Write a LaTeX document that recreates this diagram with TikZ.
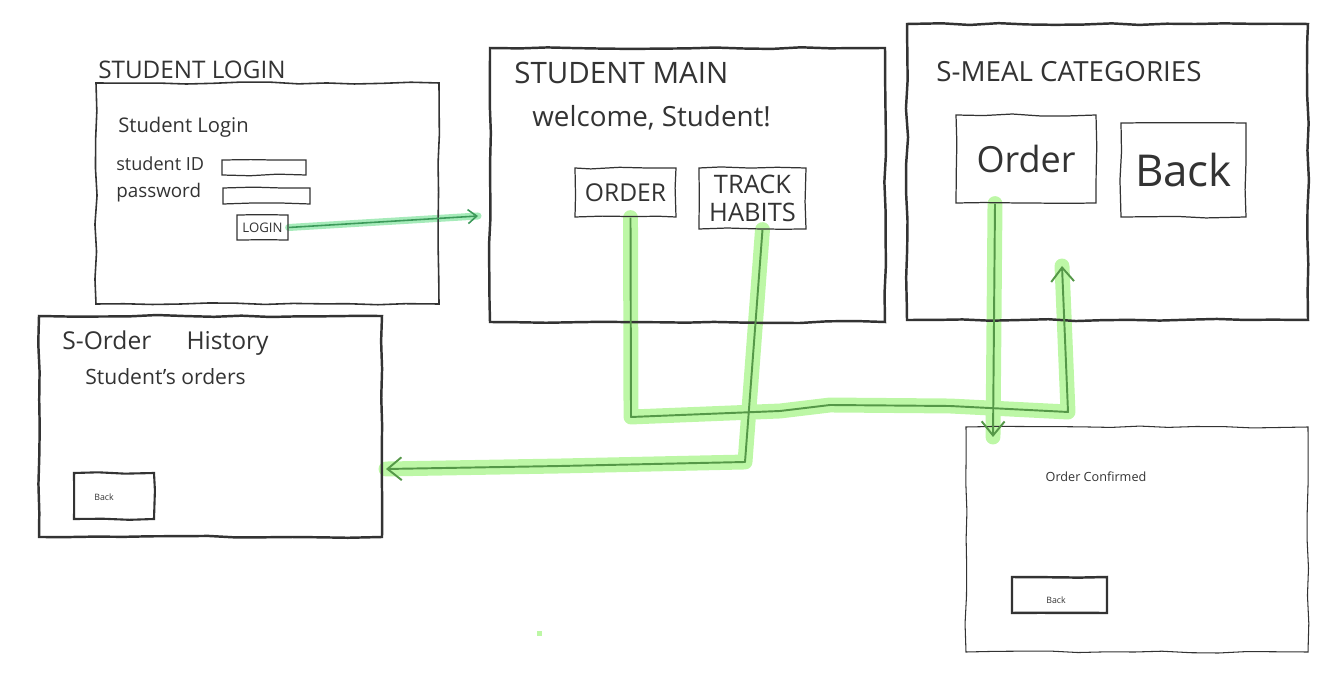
\documentclass[tikz,border=0pt]{standalone}
\usepackage{fontspec}
\setmainfont{Open Sans}
\usetikzlibrary{arrows.meta,fit,calc,backgrounds,decorations.pathmorphing}
\definecolor{ink}{HTML}{333333}
\definecolor{hlg}{HTML}{BDF7A6}
\definecolor{wireg}{HTML}{559848}
\definecolor{hlt}{HTML}{A6EBBA}
\definecolor{wiret}{HTML}{3C9A5A}
\newcommand{\fsz}[1]{\fontsize{#1}{#1}\selectfont}
\pgfmathsetseed{7}
\begin{document}
\begin{tikzpicture}[x=0.02cm,y=-0.02cm,
  rough/.style={decorate,decoration={random steps,segment length=16pt,amplitude=0.6pt}},
  screen/.style={draw=ink,line width=1.4pt,rough,inner sep=0pt},
  btn/.style={draw=ink,line width=0.7pt,rough,inner sep=0pt,text=ink},
  txt/.style={inner sep=0pt,text=ink},
  hl/.style={draw=hlg,line width=8.5pt,line cap=round,line join=round},
  hlb/.style={draw=hlt,line width=4pt,line cap=round,line join=round},
  wire/.style={draw=wireg,line width=1.1pt,line join=round,-{Straight Barb[length=8pt,width=13pt]}},
  wireb/.style={draw=wiret,line width=0.9pt,-{Straight Barb[length=5pt,width=8pt]}}]
\useasboundingbox (0,0) rectangle (1342,685);

% Student login screen
\node[screen,line width=0.9pt,fit={(96,83)(439,304)}] (login) {};
\node[txt,anchor=base west,font=\fsz{13.8}] (logintitle) at (98,79) {STUDENT LOGIN};
\node[txt,anchor=west,font=\fsz{11.5}] (loginhead) at (118,127) {Student Login};
\node[txt,anchor=west,font=\fsz{10.3}] (idlbl) at (116,164) {student ID};
\node[txt,anchor=west,font=\fsz{10.7}] (pwlbl) at (116,193) {password};
\node[btn,fit={(222,160)(306,175)}] (idfield) {};
\node[btn,fit={(223,188)(310,204)}] (pwfield) {};
\node[btn,fit={(237,215)(288,240)},label={[txt,font=\fsz{7.5}]center:LOGIN}] (loginbtn) {};

% Student main screen
\node[screen,fit={(490,48)(885,322)}] (main) {};
\node[txt,anchor=west,font=\fsz{16.8}] (maintitle) at (514,73) {STUDENT MAIN};
\node[txt,anchor=west,font=\fsz{15.8}] (welcome) at (532,118) {welcome, Student!};
\node[btn,fit={(575,168)(676,217)},label={[txt,font=\fsz{14}]center:ORDER}] (orderbtn) {};
\node[btn,fit={(699,168)(806,229)},label={[txt,font=\fsz{14.5},align=center]center:TRACK\\[1pt]HABITS}] (trackbtn) {};

% Meal categories screen
\node[screen,fit={(907,24)(1308,320)}] (meal) {};
\node[txt,anchor=west,font=\fsz{15.8}] (mealtitle) at (936,72) {S-MEAL CATEGORIES};
\node[btn,fit={(956,115)(1096,203)},label={[txt,font=\fsz{20.5}]center:Order}] (mealorder) {};
\node[btn,fit={(1121,123)(1246,217)},label={[txt,font=\fsz{25}]center:Back}] (mealback) {};

% Order history screen
\node[screen,fit={(39,316)(382,537)}] (hist) {};
\node[txt,anchor=west,font=\fsz{14}] (histtitle) at (62,343) {S-Order\hspace{20pt}History};
\node[txt,anchor=west,font=\fsz{12}] (histsub) at (85,377) {Student's orders};
\node[btn,line width=1.2pt,fit={(74,473)(154,519)}] (histback) {};
\node[txt,font=\fsz{5}] (histbacklbl) at (104,497) {Back};

% Order confirmed screen
\node[screen,line width=0.6pt,fit={(966,427)(1308,652)}] (conf) {};
\node[txt,font=\fsz{7.2}] (conftitle) at (1096,477) {Order Confirmed};
\node[btn,line width=1.4pt,fit={(1012,577)(1107,613)}] (confback) {};
\node[txt,font=\fsz{5}] (confbacklbl) at (1056,600) {Back};

% way points
\coordinate (a1) at (478,216);
\coordinate (b1) at (631,417);
\coordinate (b2) at (780,411);
\coordinate (b3) at (830,405);
\coordinate (b4) at (950,406);
\coordinate (b5) at (1068,412);
\coordinate (b6) at (1062,266);
\coordinate (c1) at (993,437);
\coordinate (d1) at (745,462);
\coordinate (d2) at (560,466);
\coordinate (d3) at (386,469);

\begin{scope}[on background layer]
  \draw[hlb] (loginbtn.east) -- (a1);
  \draw[hl] ($(orderbtn.south)+(5,0)$) -- (b1) -- (b2) -- (b3) -- (b4) -- (b5) -- (b6);
  \draw[hl] ($(mealorder.south)+(-31,0)$) -- (c1);
  \draw[hl] ($(trackbtn.south)+(10,0)$) -- (d1) -- (d2) -- (d3);
  \fill[hlg] (537,631) rectangle (542,636);
\end{scope}

\draw[wireb] (loginbtn.east) -- (a1);
\draw[wire] ($(orderbtn.south)+(5,0)$) -- (b1) -- (b2) -- (b3) -- (b4) -- (b5) -- (b6);
\draw[wire] ($(mealorder.south)+(-31,0)$) -- (c1);
\draw[wire] ($(trackbtn.south)+(10,0)$) -- (d1) -- (d2) -- (d3);
\end{tikzpicture}
\end{document}
